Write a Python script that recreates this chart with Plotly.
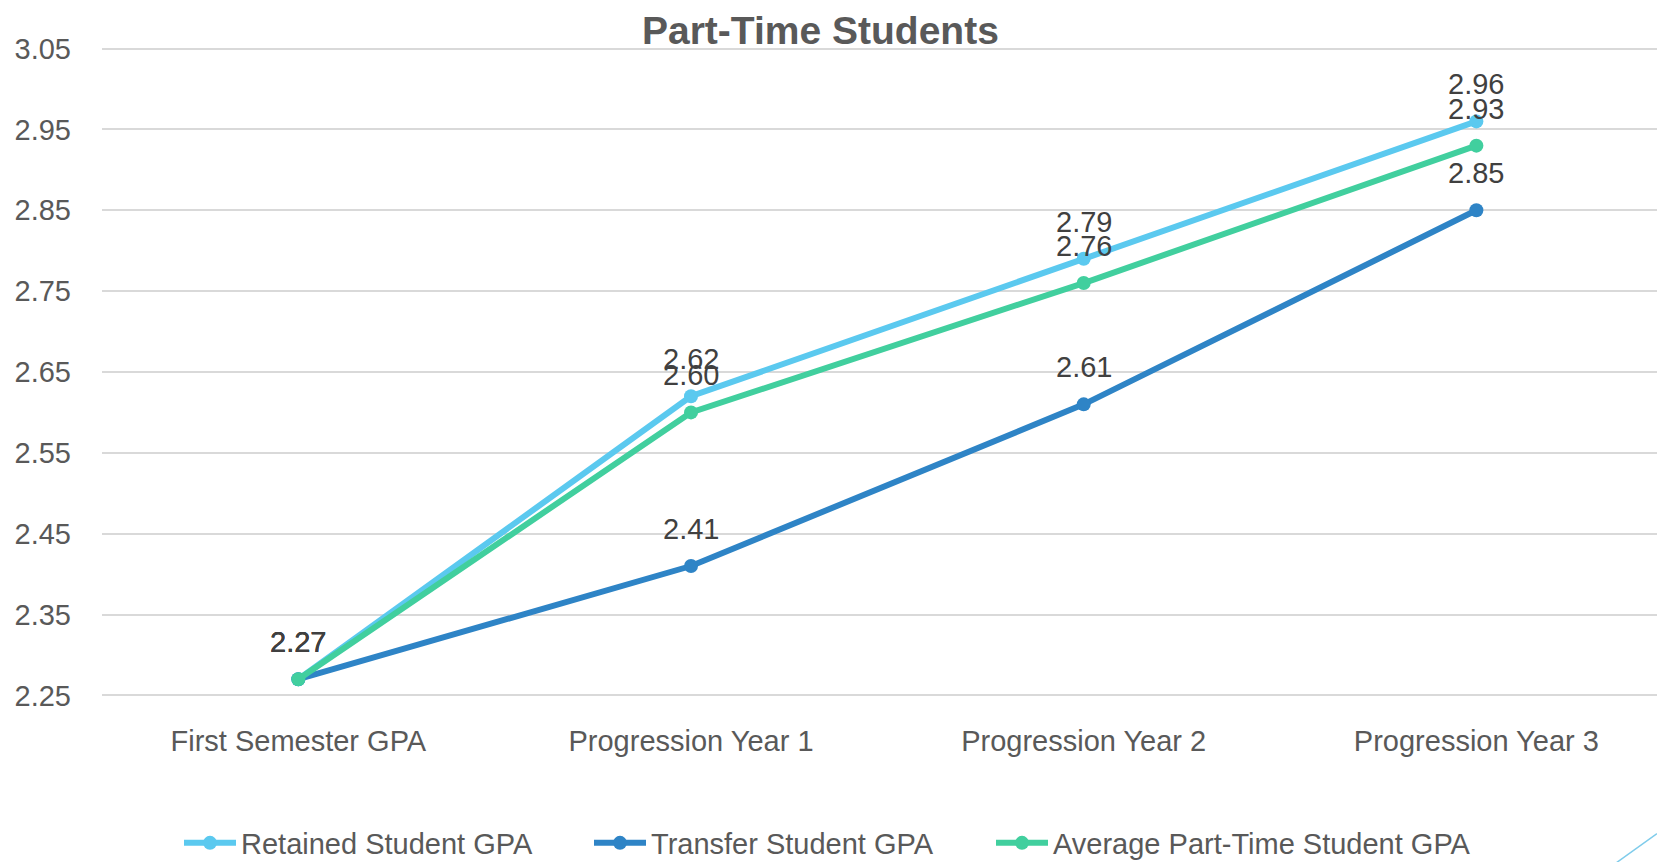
import plotly.graph_objects as go

categories = ["First Semester GPA", "Progression Year 1", "Progression Year 2", "Progression Year 3"]
retained = [2.27, 2.62, 2.79, 2.96]
transfer = [2.27, 2.41, 2.61, 2.85]
average = [2.27, 2.60, 2.76, 2.93]
series_names = ["Retained Student GPA", "Transfer Student GPA", "Average Part-Time Student GPA"]
y_ticks = [2.25, 2.35, 2.45, 2.55, 2.65, 2.75, 2.85, 2.95, 3.05]

colors = ["#5BC9EF", "#2E84C6", "#41CF9E"]
FONT = "Liberation Sans, Arial, sans-serif"
legend_ids = ["legend", "legend2", "legend3"]
legend_px = [179, 589, 991]

fig = go.Figure()
for name, vals, col, lg in zip(series_names, [retained, transfer, average], colors, legend_ids):
    fig.add_trace(go.Scatter(
        x=categories, y=vals, name=name, mode="lines+markers",
        line=dict(color=col, width=6), marker=dict(color=col, size=14),
        hoverinfo="skip", legend=lg,
    ))

annotations = []
for vals in [retained, transfer, average]:
    for c, v in zip(categories, vals):
        annotations.append(dict(
            x=c, y=v, xref="x", yref="y", text=f"{v:.2f}", showarrow=False,
            yshift=37, yanchor="middle", xanchor="center",
            font=dict(family=FONT, size=29, color="#404040"),
        ))

legend_common = dict(orientation="h", xanchor="left", y=1 - 843 / 862, yanchor="middle",
                     yref="container", font=dict(family=FONT, size=29, color="#595959"),
                     itemwidth=52, bgcolor="rgba(0,0,0,0)")

layout_legends = {}
for lg, px in zip(legend_ids, legend_px):
    layout_legends[lg] = dict(legend_common, x=(px - 102) / 1555)

top_m, bot_m = 47.4, 165.4
plot_h = 862 - top_m - bot_m

fig.update_layout(
    width=1657, height=862,
    paper_bgcolor="white", plot_bgcolor="white",
    margin=dict(l=102, r=0, t=top_m, b=bot_m, autoexpand=False),
    font=dict(family=FONT, size=29, color="#595959"),
    title=dict(text="<b>Part-Time Students</b>", xref="paper", x=0.462, xanchor="center",
               y=1 - 30 / 862, yanchor="middle",
               font=dict(family=FONT, size=39, color="#595959")),
    showlegend=True,
    annotations=annotations,
    shapes=[dict(type="line", xref="paper", yref="paper",
                 x0=0.974, y0=-(862 - top_m - plot_h - (862 - 862)) / plot_h * 0 - (862 - (top_m + plot_h)) / plot_h,
                 x1=1.0, y1=-(833 - (top_m + plot_h)) / plot_h,
                 line=dict(color="#7FCCEB", width=1.5))],
    **layout_legends,
)
fig.update_xaxes(type="category", range=[-0.5, 3.46], showgrid=False, zeroline=False,
                 showline=False, ticks="", ticklabelstandoff=24, automargin=False,
                 tickfont=dict(family=FONT, size=29, color="#595959"))
fig.update_yaxes(range=[2.248, 3.052], tickvals=y_ticks, tickformat=".2f",
                 showgrid=True, gridcolor="#D9D9D9", gridwidth=2, zeroline=False,
                 showline=False, ticks="", ticklabelstandoff=30, automargin=False,
                 tickfont=dict(family=FONT, size=29, color="#595959"))

fig.write_html("out.html", config={"displayModeBar": False},
               post_script="document.body.style.margin='0';document.body.style.overflow='hidden';")
